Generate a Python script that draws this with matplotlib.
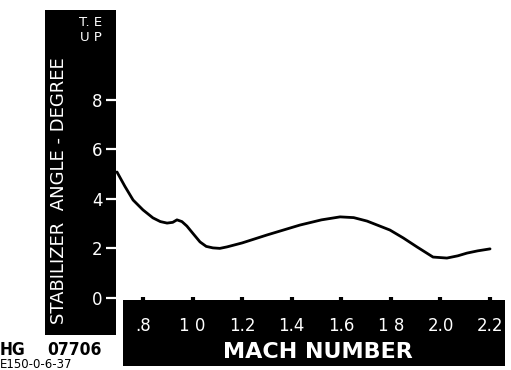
#!/usr/bin/env python3
import matplotlib
matplotlib.use("Agg")
import matplotlib.pyplot as plt
from matplotlib.patches import Rectangle

# values
mach = [0.695, 0.727, 0.760, 0.800, 0.840, 0.870, 0.897, 0.920, 0.937, 0.957, 0.977,
        1.000, 1.030, 1.055, 1.082, 1.110, 1.139, 1.200, 1.300, 1.433, 1.520, 1.595,
        1.650, 1.704, 1.796, 1.850, 1.905, 1.970, 2.026, 2.070, 2.107, 2.150, 2.200]
angle = [5.08, 4.50, 3.95, 3.55, 3.23, 3.08, 3.02, 3.05, 3.15, 3.08, 2.90,
         2.62, 2.26, 2.08, 2.02, 2.00, 2.06, 2.22, 2.54, 2.94, 3.15, 3.27,
         3.24, 3.10, 2.74, 2.42, 2.06, 1.65, 1.61, 1.70, 1.81, 1.90, 1.98]

xticks = [0.8, 1.0, 1.2, 1.4, 1.6, 1.8, 2.0, 2.2]
xticklabels = [".8", "1 0", "1.2", "1.4", "1.6", "1 8", "2.0", "2.2"]
yticks = [0, 2, 4, 6, 8]

W, H = 511, 370
fig = plt.figure(figsize=(W / 100, H / 100), dpi=100)


def box(x0, y0, x1, y1):
    # pixel box (top-left origin) -> figure fraction
    return (x0 / W, 1 - y1 / H, (x1 - x0) / W, (y1 - y0) / H)


# black label strips
for x0, y0, x1, y1 in [(45, 10, 116, 335), (123, 300, 505, 366)]:
    l, b, w, h = box(x0, y0, x1, y1)
    fig.add_artist(Rectangle((l, b), w, h, transform=fig.transFigure,
                             facecolor="black", edgecolor="none", zorder=0))

ax = fig.add_axes(box(116, 10, 505, 300))
ax.patch.set_alpha(0)
for s in ax.spines.values():
    s.set_visible(False)

ax.plot(mach, angle, color="black", lw=2.0, solid_capstyle="round")

ax.set_xlim(0.6911, 2.2603)
ax.set_ylim(-0.081, 11.61)

ax.set_yticks(yticks)
ax.set_yticklabels([str(v) for v in yticks])
ax.tick_params(axis="y", direction="out", length=7, width=1.6, color="white",
               labelcolor="white", labelsize=12, pad=2.5)

ax.set_xticks(xticks)
ax.set_xticklabels(xticklabels)
ax.tick_params(axis="x", direction="in", length=2.5, width=3, color="black",
               labelcolor="white", labelsize=12, pad=12)

fig.text(59 / W, 1 - 191 / H, "STABILIZER  ANGLE - DEGREE", rotation=90,
         color="white", fontsize=13, ha="center", va="center")
fig.text(91 / W, 1 - 23 / H, "T. E", color="white", fontsize=9.5,
         ha="center", va="center")
fig.text(91 / W, 1 - 37.5 / H, "U P", color="white", fontsize=9.5,
         ha="center", va="center")
fig.text(318 / W, 1 - 352 / H, "MACH NUMBER", color="white", fontsize=16,
         fontweight="bold", ha="center", va="center")

fig.text(0 / W, 1 - 350 / H, "HG", color="black", fontsize=12.5,
         fontstretch="condensed", fontweight="bold", ha="left", va="center")
fig.text(102 / W, 1 - 350 / H, "07706", color="black", fontsize=12.5,
         fontstretch="condensed", fontweight="bold", ha="right", va="center")
fig.text(0 / W, 1 - 358 / H, "E150-0-6-37", color="black", fontsize=8.5,
         ha="left", va="top")

fig.savefig("out.png", dpi=100)
